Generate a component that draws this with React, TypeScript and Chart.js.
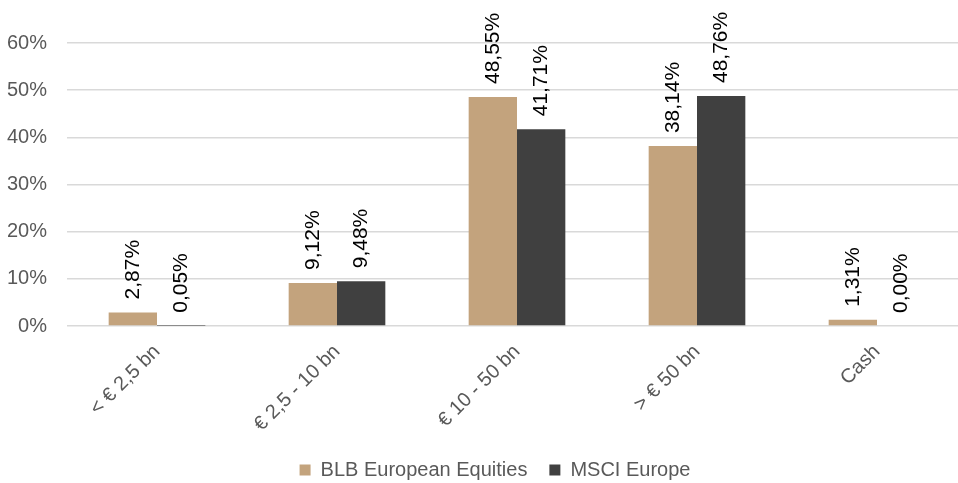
import React, { useEffect, useRef } from "react";
import { Chart, registerables } from "chart.js";

Chart.register(...registerables);

const categories = ["< € 2,5 bn", "€ 2,5 - 10 bn", "€ 10 - 50 bn", "> € 50 bn", "Cash"];
const seriesNames = ["BLB European Equities", "MSCI Europe"];
const blbValues = [2.87, 9.12, 48.55, 38.14, 1.31];
const msciValues = [0.05, 9.48, 41.71, 48.76, 0.0];
const yMin = 0;
const yMax = 60;
const yStep = 10;

const FONT = "'Liberation Sans', Arial, sans-serif";
const TAN = "#C3A37D";
const DARK = "#404040";
const GREY = "#595959";

const dataLabelPlugin = {
  id: "dataLabels",
  afterDatasetsDraw(chart: any) {
    const ctx = chart.ctx;
    ctx.save();
    ctx.font = `21px ${FONT}`;
    ctx.fillStyle = "#000000";
    ctx.textAlign = "left";
    ctx.textBaseline = "middle";
    chart.data.datasets.forEach((ds: any, di: number) => {
      const meta = chart.getDatasetMeta(di);
      meta.data.forEach((bar: any, i: number) => {
        const v = ds.data[i] as number;
        const text = v.toFixed(2).replace(".", ",") + "%";
        ctx.save();
        ctx.translate(bar.x, bar.y - 13);
        ctx.rotate(-Math.PI / 2);
        ctx.fillText(text, 0, 0);
        ctx.restore();
      });
    });
    ctx.restore();
  },
};

// trims the legend box height so the legend sits lower, as in the reference
const legendFitPlugin = {
  id: "legendFit",
  beforeLayout(chart: any) {
    const lg = chart.legend;
    if (lg && !lg.__patched) {
      const orig = lg.fit;
      lg.fit = function () {
        orig.call(this);
        this.height = this.height - 7;
      };
      lg.__patched = true;
    }
  },
};

export default function App() {
  const ref = useRef<HTMLCanvasElement | null>(null);

  useEffect(() => {
    if (!ref.current) return;
    const chart = new Chart(ref.current, {
      type: "bar",
      data: {
        labels: categories,
        datasets: [
          {
            label: seriesNames[0],
            data: blbValues,
            backgroundColor: TAN,
            borderWidth: 0,
            yAxisID: "y",
            categoryPercentage: 0.537,
            barPercentage: 1,
          },
          {
            label: seriesNames[1],
            data: msciValues,
            backgroundColor: DARK,
            borderWidth: 0,
            yAxisID: "y",
            categoryPercentage: 0.537,
            barPercentage: 1,
          },
        ],
      },
      options: {
        responsive: false,
        animation: false,
        devicePixelRatio: 1,
        layout: { padding: { top: 43, right: 0, left: 0, bottom: 0 } },
        plugins: {
          legend: {
            position: "bottom",
            labels: {
              font: { family: FONT, size: 20 },
              color: GREY,
              boxWidth: 11,
              boxHeight: 11,
              padding: 22,
            },
          },
          tooltip: { enabled: false },
        },
        scales: {
          x: {
            grid: { display: false },
            border: { display: false },
            ticks: {
              font: { family: FONT, size: 20 },
              color: GREY,
              maxRotation: 45,
              minRotation: 45,
              padding: 6,
            },
            afterFit(scale: any) {
              scale.height = 112;
            },
          },
          y: {
            position: "left",
            min: yMin,
            max: yMax,
            grid: { color: "#D9D9D9", lineWidth: 1.5, drawTicks: false },
            border: { display: false },
            ticks: {
              stepSize: yStep,
              font: { family: FONT, size: 20 },
              color: GREY,
              padding: 20,
              callback: (v: any) => `${v}%`,
            },
            afterFit(scale: any) {
              scale.width = 67;
            },
          },
          y2: {
            position: "right",
            grid: { display: false },
            border: { display: false },
            ticks: { display: false },
            afterFit(scale: any) {
              scale.width = 23;
            },
          },
        },
      },
      plugins: [dataLabelPlugin, legendFitPlugin],
    });
    return () => chart.destroy();
  }, []);

  return (
    <div style={{ position: "fixed", left: 0, top: 0, width: 958, height: 483, overflow: "hidden", background: "#fff" }}>
      <div style={{ width: 990, height: 483 }}>
        <canvas ref={ref} width={990} height={483} style={{ display: "block" }} />
      </div>
    </div>
  );
}
